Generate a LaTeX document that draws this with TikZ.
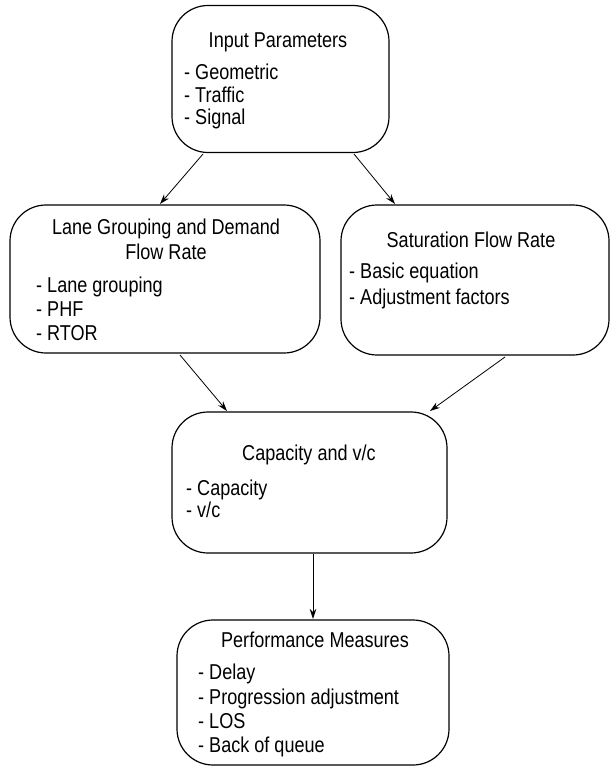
\documentclass[tikz,border=0pt]{standalone}
\usepackage{fontspec}
\setmainfont{Liberation Sans}[FakeStretch=0.84]
\usetikzlibrary{arrows.meta}
\begin{document}
\begin{tikzpicture}[x=1pt,y=-1pt,
  box/.style={draw,line width=1.2pt,rounded corners=36pt,inner sep=0pt},
  txt/.style={inner sep=0pt,anchor=base west,font=\fontsize{21.5}{24}\selectfont},
  ttl/.style={inner sep=0pt,anchor=base,font=\fontsize{21.5}{24}\selectfont},
  arr/.style={line width=0.8pt,-{Stealth[length=10pt,width=6.5pt]}}]
\useasboundingbox (0,0) rectangle (610,768);

% boxes
\node[box,minimum width=217pt,minimum height=147pt] (inp) at (280.5,79) {};
\node[box,minimum width=310pt,minimum height=148pt] (lane) at (165,279) {};
\node[box,minimum width=268pt,minimum height=150pt] (sat) at (475,280) {};
\node[box,minimum width=275pt,minimum height=141pt] (cap) at (309.5,482.5) {};
\node[box,minimum width=272pt,minimum height=145pt] (perf) at (313,692.5) {};

% Input Parameters
\node[ttl] (inpt) at (278,48) {Input Parameters};
\node[txt] (inp1) at (184,79) {- Geometric};
\node[txt] (inp2) at (184,102) {- Traffic};
\node[txt] (inp3) at (184,124) {- Signal};

% Lane Grouping and Demand Flow Rate
\node[ttl] (lanet1) at (166,234) {Lane Grouping and Demand};
\node[ttl] (lanet2) at (166,259) {Flow Rate};
\node[txt] (lane1) at (36,292) {- Lane grouping};
\node[txt] (lane2) at (36,316) {- PHF};
\node[txt] (lane3) at (36,340) {- RTOR};

% Saturation Flow Rate
\node[ttl] (satt) at (471,247) {Saturation Flow Rate};
\node[txt] (sat1) at (349,278) {- Basic equation};
\node[txt] (sat2) at (349,304) {- Adjustment factors};

% Capacity and v/c
\node[ttl] (capt) at (309,460) {Capacity and v/c};
\node[txt] (cap1) at (186,495) {- Capacity};
\node[txt] (cap2) at (186,517) {- v/c};

% Performance Measures
\node[ttl] (perft) at (315,647) {Performance Measures};
\node[txt] (perf1) at (198,679) {- Delay};
\node[txt] (perf2) at (198,704) {- Progression adjustment};
\node[txt] (perf3) at (198,728) {- LOS};
\node[txt] (perf4) at (198,752) {- Back of queue};

% connectors
\coordinate (a1) at (203,154);
\coordinate (a2) at (354,154);
\coordinate (a3) at (180,355);
\coordinate (a4) at (505,357);
\coordinate (a5) at (313,554);
\draw[arr] (a1) -- (160,204);
\draw[arr] (a2) -- (395,204);
\draw[arr] (a3) -- (227,411);
\draw[arr] (a4) -- (430,411);
\draw[arr] (a5) -- (313,619);
\end{tikzpicture}
\end{document}
